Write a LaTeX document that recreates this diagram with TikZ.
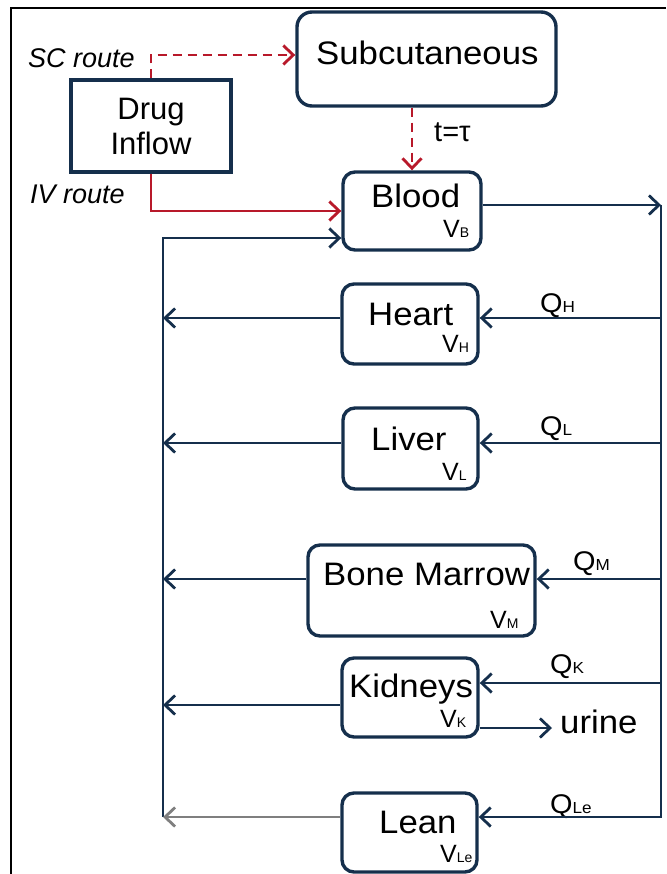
\documentclass[tikz,border=0pt]{standalone}
\usepackage{fontspec}
\setmainfont{Liberation Sans}
\usepackage{graphicx}
\usetikzlibrary{arrows.meta,calc}
\definecolor{navy}{HTML}{152F4C}
\definecolor{dred}{HTML}{B8192A}
\definecolor{grayarrow}{HTML}{7F7F7F}
\newcommand{\bigf}{\fontsize{32.5}{36}\selectfont}
\newcommand{\widetxt}[1]{\scalebox{1.07}[1]{#1}}
\newcommand{\volm}[2]{{\fontsize{25}{28}\selectfont #1}{\fontsize{14}{16}\selectfont #2}}
\newcommand{\flowq}[2]{\scalebox{1.07}[1]{{\fontsize{27}{30}\selectfont #1}{\fontsize{16}{18}\selectfont #2}}}
\begin{document}
\begin{tikzpicture}[x=1pt,y=-1pt,
  box/.style={draw=navy, line width=3.4pt, rounded corners=12pt, inner sep=0pt},
  sqbox/.style={draw=navy, line width=3.4pt, inner sep=0pt, align=center, font=\fontsize{31}{35}\selectfont},
  organ/.style={anchor=base west, inner sep=0pt, font=\bigf},
  lab/.style={anchor=base west, inner sep=0pt},
  route/.style={anchor=base west, inner sep=0pt, font=\fontsize{27}{30}\selectfont\itshape},
  tip/.style={-{Straight Barb[length=10pt,width=19pt]}},
  flow/.style={draw=navy, line width=2.8pt, tip},
  ivflow/.style={draw=dred, line width=2.8pt, tip},
  scflow/.style={draw=dred, line width=2.8pt, dash pattern=on 9pt off 6pt, tip},
  frame/.style={draw=black, line width=2pt}
]
\useasboundingbox (0,0) rectangle (666,874);
% outer frame
\draw[frame] (11,874) -- (11,8) -- (666,8);

% boxes
\node[box, rounded corners=15pt, minimum width=259pt, minimum height=94pt] (sub) at (426.5,59) {};
\node[sqbox, minimum width=160pt, minimum height=92pt] (drug) at (151,126) {Drug\\Inflow};
\node[box, minimum width=138pt, minimum height=78pt] (blood) at (412,211) {};
\node[box, minimum width=136pt, minimum height=80pt] (heart) at (410,324) {};
\node[box, minimum width=135pt, minimum height=81pt] (liver) at (410.5,448.5) {};
\node[box, minimum width=227pt, minimum height=91pt] (marrow) at (421.5,590.5) {};
\node[box, minimum width=136pt, minimum height=79pt] (kidneys) at (410,697.5) {};
\node[box, minimum width=135pt, minimum height=79pt] (lean) at (409.5,832.5) {};

% box texts
\node[organ] (subt) at (316,65) {\widetxt{Subcutaneous}};
\node[organ] (bloodt) at (371,208) {\widetxt{Blood}};
\node[organ] (heartt) at (368,325) {\widetxt{Heart}};
\node[organ] (livert) at (371,450) {\widetxt{Liver}};
\node[organ] (marrowt) at (323,585) {\widetxt{Bone Marrow}};
\node[organ] (kidneyst) at (349,697) {\widetxt{Kidneys}};
\node[organ] (leant) at (379,833) {\widetxt{Lean}};

% volumes
\node[lab] (vb) at (443,238) {\volm{V}{B}};
\node[lab] (vh) at (442,352) {\volm{V}{H}};
\node[lab] (vl) at (442,480) {\volm{V}{L}};
\node[lab] (vm) at (490,628) {\volm{V}{M}};
\node[lab] (vk) at (440,727) {\volm{V}{K}};
\node[lab] (vle) at (440,862) {\volm{V}{Le}};

% flows
\node[lab] (qh) at (540,312) {\flowq{Q}{H}};
\node[lab] (ql) at (540,435) {\flowq{Q}{L}};
\node[lab] (qm) at (573,570) {\flowq{Q}{M}};
\node[lab] (qk) at (550,673) {\flowq{Q}{K}};
\node[lab] (qle) at (550,813) {\flowq{Q}{Le}};

% other labels
\node[route] (sc) at (28,68) {SC route};
\node[route] (iv) at (30,204) {IV route};
\node[lab, font=\fontsize{29}{32}\selectfont] (tau) at (434,142) {t=τ};
\node[organ] (urine) at (560,733) {\widetxt{urine}};

% bus coordinates
\coordinate (rt) at (661,205);
\coordinate (rb) at (661,817);
\coordinate (lt) at (163,238);
\coordinate (lb) at (163,817);

% port coordinates
\coordinate (bout) at ([yshift=6pt]blood.east);
\coordinate (hin) at ([yshift=6pt]heart.east);
\coordinate (hout) at ([yshift=6pt]heart.west);
\coordinate (lin) at ([yshift=5.5pt]liver.east);
\coordinate (lout) at ([yshift=5.5pt]liver.west);
\coordinate (min) at ([yshift=11.5pt]marrow.east);
\coordinate (mout) at ([yshift=11.5pt]marrow.west);
\coordinate (kin) at ([yshift=14.5pt]kidneys.east);
\coordinate (kout) at ([yshift=-7.5pt]kidneys.west);
\coordinate (kur) at ([yshift=-30.5pt]kidneys.east);
\coordinate (lein) at ([yshift=15.5pt]lean.east);
\coordinate (leout) at ([yshift=15.5pt]lean.west);

% dosing routes
\draw[scflow] (drug.north) |- ([yshift=4pt]sub.west);
\draw[scflow] (sub.south -| blood.north) -- (blood.north);
\draw[ivflow] (drug.south) |- (blood.west);

% circulation
\draw[flow] (bout) -- (rt);
\draw[flow] (rt) -- (rb) -- (lein);
\draw[flow] (lb) -- (lt) -- (lt -| blood.west);
\draw[flow] (rb |- hin) -- (hin);
\draw[flow] (hout) -- (lb |- hout);
\draw[flow] (rb |- lin) -- (lin);
\draw[flow] (lout) -- (lb |- lout);
\draw[flow] (rb |- min) -- (min);
\draw[flow] (mout) -- (lb |- mout);
\draw[flow] (rb |- kin) -- (kin);
\draw[flow] (kout) -- (lb |- kout);
\draw[flow, shorten >=8pt] (kur) -- (kur -| urine.west);
\draw[flow, draw=grayarrow] (leout) -- (lb);
\end{tikzpicture}
\end{document}
